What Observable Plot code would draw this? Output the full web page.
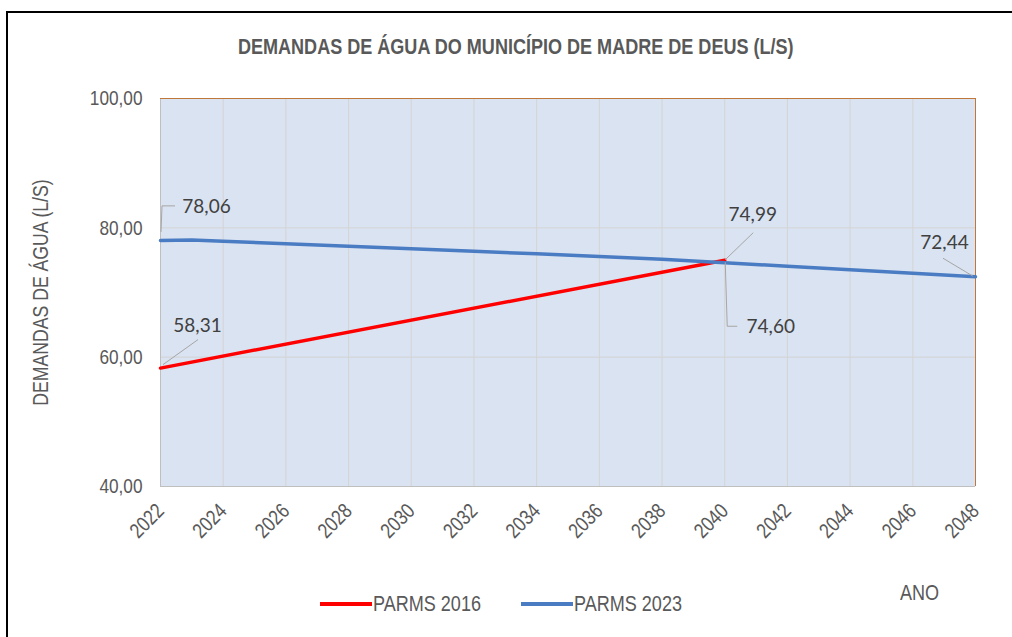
<!DOCTYPE html>
<html><head><meta charset="utf-8">
<script src="https://cdn.jsdelivr.net/npm/d3@7"></script>
<script src="https://cdn.jsdelivr.net/npm/@observablehq/plot@0.6"></script>
<style>
body{margin:0;background:#fff;}
#wrap{position:relative;width:1012px;height:637px;overflow:hidden;font-family:"Liberation Sans Narrow","Arial Narrow","Liberation Sans",Arial,sans-serif;color:#595959;}
#border{position:absolute;left:6px;top:11px;width:1100px;height:700px;border-top:2px solid #000;border-left:2px solid #000;}
#chart{position:absolute;left:0;top:0;}
#title{position:absolute;top:34px;left:0;width:1032px;text-align:center;font-weight:bold;font-size:22px;color:#595959;}
#title span{display:inline-block;transform:scaleX(0.82);transform-origin:center;white-space:nowrap;}
.leg{position:absolute;font-size:22px;color:#595959;white-space:nowrap;transform:scaleX(0.82);transform-origin:left center;}
.sw{position:absolute;height:4px;width:52px;}
</style>
</head><body>
<div id="wrap">
  <div id="border"></div>
  <div id="chart"></div>
  <div id="title"><span>DEMANDAS DE ÁGUA DO MUNICÍPIO DE MADRE DE DEUS (L/S)</span></div>
  <div class="sw" style="left:320px;top:602px;background:#ff0000"></div>
  <div class="leg" id="leg0" style="left:373px;top:591px"></div>
  <div class="sw" style="left:521px;top:602px;background:#4a7cc4"></div>
  <div class="leg" id="leg1" style="left:574px;top:591px"></div>
  <div class="leg" style="left:900px;top:580px">ANO</div>
</div>
<script>
// ---- data ----
const years2016 = [2022, 2040];
const parms2016 = [58.31, 74.99];
const years2023 = [2022, 2023, 2024, 2026, 2028, 2030, 2032, 2034, 2036, 2038, 2040, 2042, 2044, 2046, 2048];
const parms2023 = [78.06, 78.12, 77.92, 77.54, 77.16, 76.77, 76.38, 75.98, 75.58, 75.15, 74.60, 74.06, 73.52, 72.98, 72.44];
const xTicks = [2022, 2024, 2026, 2028, 2030, 2032, 2034, 2036, 2038, 2040, 2042, 2044, 2046, 2048];
const yTicks = [40, 60, 80, 100];
const seriesNames = ["PARMS 2016", "PARMS 2023"];
const yTitle = "DEMANDAS DE ÁGUA (L/S)";

document.getElementById("leg0").textContent = seriesNames[0];
document.getElementById("leg1").textContent = seriesNames[1];

const s2016 = years2016.map((y, i) => ({year: y, value: parms2016[i]}));
const s2023 = years2023.map((y, i) => ({year: y, value: parms2023[i]}));
const fmt = v => v.toFixed(2).replace(".", ",");

const lbl = (pt, dx, dy) => Plot.text([pt], {x: "year", y: "value", text: d => fmt(d.value), dx, dy,
  fontFamily: "Lato, 'Open Sans', sans-serif", fontSize: 19, fill: "#404040"});

// leader lines, pixel offsets relative to the data point
function leaders(specs) {
  return (index, scales) => {
    const g = d3.create("svg:g").attr("fill", "none").attr("stroke", "#a6a6a6").attr("stroke-width", 1);
    for (const [pt, offs] of specs) {
      const px = scales.x(pt.year), py = scales.y(pt.value);
      g.append("path").attr("d", "M" + offs.map(o => (px + o[0]) + "," + (py + o[1])).join("L"));
    }
    return g.node();
  };
}

const first16 = s2016[0], last16 = s2016[s2016.length - 1];
const first23 = s2023[0], last23 = s2023[s2023.length - 1], mid23 = s2023.find(d => d.year === 2040);
const narrowFont = "'Liberation Sans Narrow','Arial Narrow','Liberation Sans',Arial,sans-serif";

const chart = Plot.plot({
  width: 1012, height: 637,
  marginLeft: 160, marginRight: 37, marginTop: 98, marginBottom: 151,
  style: {background: "transparent", fontFamily: narrowFont, color: "#595959", overflow: "visible"},
  x: {domain: [2022, 2048]},
  y: {domain: [40, 100]},
  marks: [
    Plot.frame({fill: "#dae3f1", stroke: null}),
    Plot.gridX(xTicks, {stroke: "#d4d4d4", strokeOpacity: 1}),
    Plot.gridY(yTicks, {stroke: "#d4d4d4", strokeOpacity: 1}),
    Plot.ruleY([40], {stroke: "#bfbfbf"}),
    Plot.ruleX([2022], {stroke: "#bfbfbf"}),
    Plot.ruleY([100], {stroke: "#c0773a"}),
    Plot.ruleX([2048], {stroke: "#c0773a"}),
    Plot.axisX(xTicks, {tickSize: 0, tickRotate: -45, tickPadding: 21, fontSize: 21, fill: "#595959", tickFormat: d => String(d), label: null}),
    Plot.axisY(yTicks, {tickSize: 0, tickPadding: 18, fontSize: 21, fill: "#595959", tickFormat: fmt, label: null}),
    Plot.text([yTitle], {frameAnchor: "left", textAnchor: "middle", rotate: -90, dx: -119, fontSize: 21.5, fill: "#595959"}),
    Plot.line(s2016, {x: "year", y: "value", stroke: "#ff0000", strokeWidth: 3.5}),
    Plot.line(s2023, {x: "year", y: "value", stroke: "#4a7cc4", strokeWidth: 3.5}),
    leaders([
      [first23, [[1, -8], [2, -34], [15, -34]]],
      [first16, [[3, -3], [38, -28]]],
      [last16, [[1, 0], [29, -27]]],
      [mid23, [[1, 0], [3, 64], [13, 64]]],
      [last23, [[-2, 0], [-32, -18]]]
    ]),
    lbl(first23, 46, -33),
    lbl(first16, 37, -42),
    lbl(last16, 28, -45),
    lbl(mid23, 46, 64),
    lbl(last23, -31, -34)
  ]
});
document.getElementById("chart").appendChild(chart);

// emulate a narrow face by horizontal compression of the text glyphs
chart.querySelectorAll("text").forEach(t => {
  const s = t.textContent;
  if (/^\d{4}$/.test(s) || /^\d+,00$/.test(s) || s === yTitle) {
    const tr = t.getAttribute("transform");
    if (tr) t.setAttribute("transform", tr + " scale(0.82,1)");
  }
});
</script>
</body></html>
